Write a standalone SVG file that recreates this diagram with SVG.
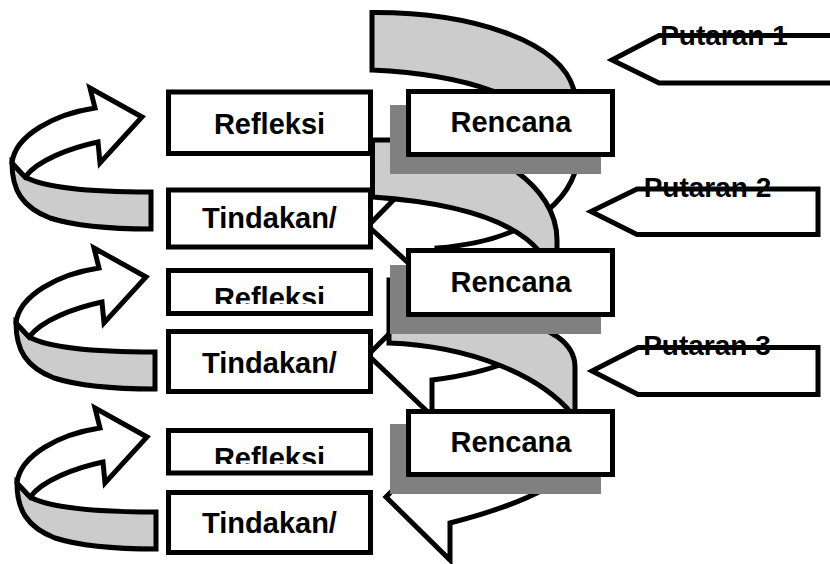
<svg xmlns="http://www.w3.org/2000/svg" width="830" height="564" viewBox="0 0 830 564">
<style>
.box{fill:#fff;stroke:#000;stroke-width:5}
.shadow{fill:#808080}
.band{fill:#ccc;stroke:#000;stroke-width:5;stroke-linejoin:miter;stroke-miterlimit:10}
.face{fill:#fff;stroke:#000;stroke-width:5;stroke-linejoin:miter;stroke-miterlimit:10}
.lbl{font-family:"Liberation Sans",Arial,Helvetica,sans-serif;font-weight:bold;font-size:29px;fill:#000;text-anchor:middle}
.put{font-size:28px}
</style>
<defs>
<clipPath id="c2"><rect x="170" y="270" width="200" height="34"/></clipPath>
<clipPath id="c3"><rect x="170" y="430" width="200" height="34"/></clipPath>
<g id="leftArrow">
<path class="band" d="M 25,177 C 45,188 90,192 151,192 L 151,229 C 110,229 75,226 50,218 C 22,207 12,190 12,163 Z"/>
<path class="face" d="M 95,108 L 90,88 L 142,117 L 100,163 L 98,142 C 70,148 38,160 25,177 L 12,163 C 15,135 55,114 95,108 Z"/>
</g>
</defs>

<g id="connectors">
<use href="#leftArrow"/>
<use href="#leftArrow" transform="translate(4,160)"/>
<use href="#leftArrow" transform="translate(5,320)"/>
<g id="cycle1">
<path class="band" d="M 372,12.5 C 470,12 560,40 574,90 C 578,105 580,130 578,150 L 565,150 C 540,95 460,74 372,70 Z"/>
<path class="face" d="M 578,150 C 580,190 540,240 437,248 L 440,292 L 368,226 L 410,183 C 470,175 545,160 565,150 Z"/>
</g>
<g id="cycle2">
<path class="band" d="M 372.5,140 L 430,140 C 490,145 557,185 557,240 L 557,262 L 545,262 L 540,252 C 515,222 460,203 372.5,197 Z"/>
<path class="face" d="M 575,290 C 572,330 530,368 432,380 L 432,416 L 368,355 L 410,313 C 470,305 545,290 565,285 Z"/>
</g>
<g id="cycle3">
<path class="band" d="M 389,280 L 470,280 L 520,320 C 545,328 575,340 575,367 L 575,420 L 572,414 C 540,375 470,346 389,343 Z"/>
<path class="face" d="M 585,440 C 583,480 520,505 450,523 L 450,560 L 386,497 L 420,463 C 480,458 550,450 575,440 Z"/>
</g>
</g>

<g id="rencana1">
<rect class="shadow" x="390" y="105" width="211" height="69"/>
<rect class="box" x="408.5" y="91.5" width="204" height="63"/>
<text class="lbl" x="511" y="132">Rencana</text>
</g>
<g id="rencana2">
<rect class="shadow" x="390" y="265" width="211" height="69"/>
<rect class="box" x="408.5" y="250.5" width="204" height="64"/>
<text class="lbl" x="511" y="292">Rencana</text>
</g>
<g id="rencana3">
<rect class="shadow" x="390" y="424" width="211" height="70"/>
<rect class="box" x="408.5" y="411.5" width="204" height="63"/>
<text class="lbl" x="511" y="452">Rencana</text>
</g>

<g id="refleksi1">
<rect class="box" x="168.5" y="92" width="202" height="61.5"/>
<text class="lbl" x="269.5" y="134">Refleksi</text>
</g>
<g id="tindakan1">
<rect class="box" x="168.5" y="190" width="202" height="57"/>
<text class="lbl" x="269.5" y="228">Tindakan/</text>
</g>
<g id="refleksi2">
<rect class="box" x="168.5" y="270.5" width="202" height="43"/>
<text class="lbl" x="269.5" y="308" clip-path="url(#c2)">Refleksi</text>
</g>
<g id="tindakan2">
<rect class="box" x="168.5" y="331.5" width="202" height="60"/>
<text class="lbl" x="269.5" y="373">Tindakan/</text>
</g>
<g id="refleksi3">
<rect class="box" x="168.5" y="430.5" width="202" height="42.5"/>
<text class="lbl" x="269.5" y="468" clip-path="url(#c3)">Refleksi</text>
</g>
<g id="tindakan3">
<rect class="box" x="168.5" y="492.5" width="202" height="60"/>
<text class="lbl" x="269.5" y="533">Tindakan/</text>
</g>

<g id="putaran1">
<path class="face" d="M 845,35.5 L 659,35.5 L 612,60 L 659,83 L 845,83 Z"/>
<text class="lbl put" x="724" y="45">Putaran 1</text>
</g>
<g id="putaran2">
<path class="face" d="M 818,189 L 637,189 L 591,211.5 L 637,234.5 L 818,234.5 Z"/>
<text class="lbl put" x="707.5" y="197">Putaran 2</text>
</g>
<g id="putaran3">
<path class="face" d="M 818,347.5 L 638,347.5 L 592,371 L 638,394.5 L 818,394.5 Z"/>
<text class="lbl put" x="707" y="355">Putaran 3</text>
</g>
</svg>
